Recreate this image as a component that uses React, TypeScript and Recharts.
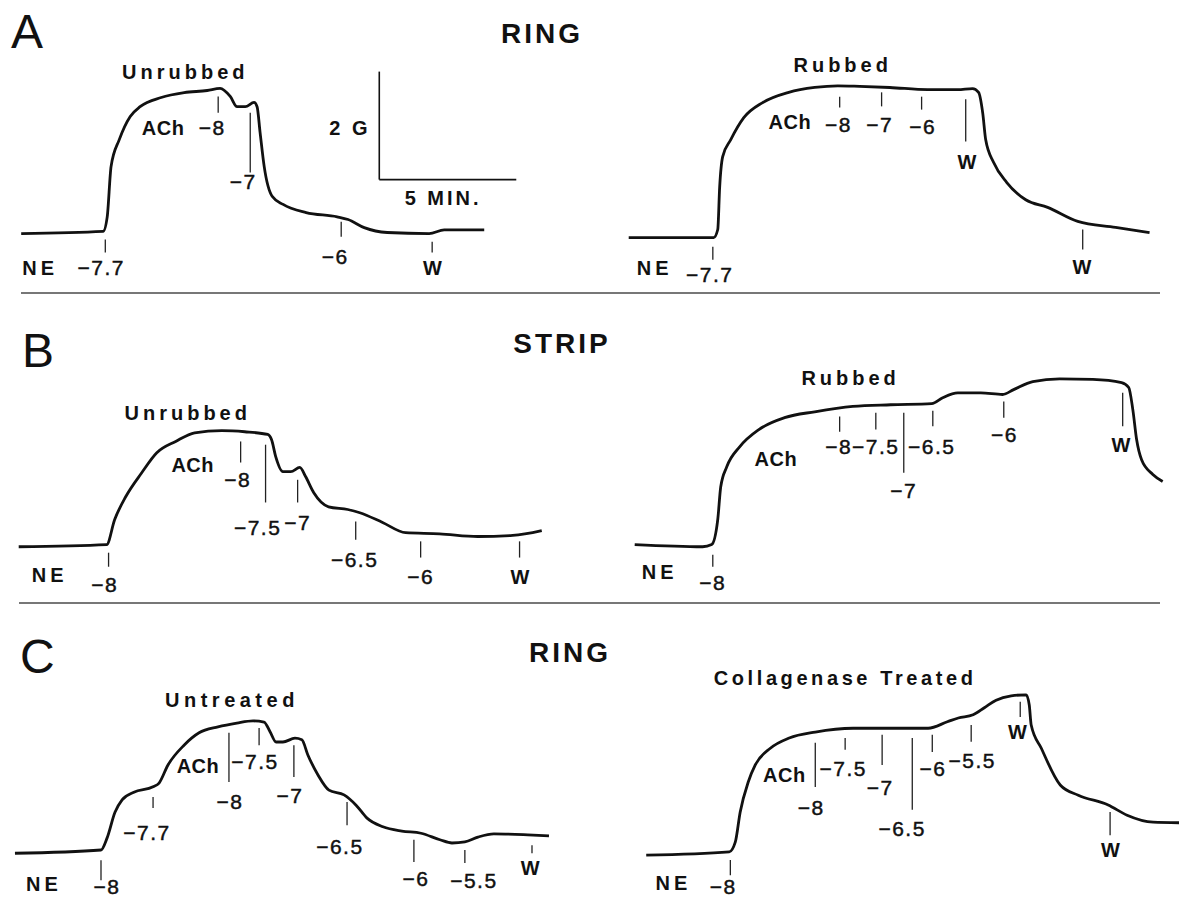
import { LineChart, Line, XAxis, YAxis, ReferenceLine, ReferenceDot } from 'recharts';

// recorder scale: 5 min horizontal, 2 g vertical (from the calibration bar)
const PX_PER_MIN = 27.4;
const PX_PER_G = 54;
const FONT = "'Liberation Sans', Arial, Helvetica, sans-serif";

// tension traces: [time (min), tension above baseline (g)]
const ringUnrubbed = [
  [0, 0], [2.99, 0.04], [3.14, 0.31], [3.28, 1.24], [3.58, 1.74], [3.98, 2.17], [4.34, 2.35],
  [5.11, 2.52], [5.95, 2.61], [6.79, 2.65], [7.26, 2.69], [7.63, 2.54], [7.88, 2.35], [8.18, 2.35],
  [8.5, 2.43], [8.61, 2.35], [8.72, 1.87], [8.87, 1.24], [9.16, 0.69], [9.56, 0.54], [10.4, 0.39],
  [11.53, 0.31], [11.93, 0.26], [12.52, 0.11], [13.36, 0.02], [14.89, 0], [15.44, 0.07], [16.9, 0.07],
];
const ringRubbed = [
  [0, 0], [3.1, 0], [3.25, 0.15], [3.32, 0.94], [3.43, 1.5], [3.72, 1.81], [4.2, 2.22], [4.89, 2.5],
  [5.84, 2.69], [6.79, 2.78], [7.63, 2.81], [8.43, 2.8], [9.53, 2.78], [10.91, 2.74], [12.01, 2.74],
  [12.55, 2.76], [12.77, 2.69], [12.92, 2.31], [13.03, 1.81], [13.32, 1.39], [13.8, 1.02], [14.49, 0.7],
  [15.29, 0.56], [16.39, 0.3], [17.77, 0.19], [19.01, 0.09],
];
const stripUnrubbed = [
  [0, -0.04], [3.21, 0], [3.5, 0.46], [3.91, 0.89], [4.49, 1.33], [5.04, 1.7], [5.73, 1.91], [6.42, 2.07],
  [7.41, 2.11], [8.25, 2.09], [9.09, 2.04], [9.23, 1.94], [9.38, 1.63], [9.64, 1.35], [9.93, 1.35],
  [10.26, 1.43], [10.47, 1.26], [10.77, 0.96], [11.31, 0.7], [12.01, 0.65], [12.45, 0.59], [13.28, 0.41],
  [14.12, 0.22], [15.36, 0.2], [16.75, 0.15], [18.03, 0.17], [19.09, 0.26],
];
const stripRubbed = [
  [0, 0], [2.48, -0.04], [2.81, 0], [3.03, 0.46], [3.14, 1.07], [3.36, 1.44], [3.83, 1.81], [4.53, 2.13],
  [5.47, 2.35], [6.57, 2.46], [7.96, 2.56], [9.34, 2.59], [10.84, 2.61], [11.24, 2.72], [11.79, 2.81],
  [12.63, 2.81], [13.43, 2.78], [13.83, 2.87], [14.53, 3.02], [15.51, 3.07], [16.72, 3.06], [17.77, 3.0],
  [18.03, 2.91], [18.18, 2.5], [18.32, 1.94], [18.5, 1.57], [18.91, 1.3], [19.27, 1.17],
];
const ringUntreated = [
  [0, -0.06], [3.14, 0], [3.36, 0.22], [3.65, 0.7], [3.91, 0.93], [4.34, 1.07], [5.04, 1.17], [5.26, 1.24],
  [5.58, 1.57], [6.17, 1.94], [6.72, 2.17], [7.41, 2.28], [8.1, 2.35], [8.69, 2.39], [9.09, 2.37],
  [9.31, 2.19], [9.53, 2.0], [9.78, 2.0], [10.22, 2.07], [10.47, 2.04], [10.69, 1.76], [11.06, 1.39],
  [11.46, 1.11], [12.01, 1.02], [12.45, 0.83], [12.85, 0.59], [13.43, 0.43], [14.12, 0.35], [14.82, 0.31],
  [15.51, 0.19], [15.95, 0.13], [16.42, 0.15], [16.9, 0.24], [17.48, 0.3], [18.72, 0.28], [19.49, 0.26],
];
const ringCollagenase = [
  [0, -0.04], [3.03, 0.02], [3.25, 0.2], [3.43, 0.76], [3.72, 1.31], [3.98, 1.63], [4.53, 1.94],
  [5.22, 2.13], [6.17, 2.24], [7.55, 2.31], [8.94, 2.31], [10.29, 2.31], [10.99, 2.43], [11.39, 2.5],
  [11.93, 2.56], [12.34, 2.69], [12.77, 2.83], [13.32, 2.91], [13.87, 2.93], [13.98, 2.74], [14.05, 2.37],
  [14.42, 1.94], [15.11, 1.26], [15.77, 1.07], [16.86, 0.89], [17.55, 0.7], [18.5, 0.57], [19.45, 0.56],
];

// drug additions: time, log dose (or W = wash), pen mark extent and label anchor (g / min)
type Mark = { t: number; dose: string; top: number; bottom: number; lt: number; lg: number };
type Word = { text: string; t: number; g: number; spacing?: number };

const ringUnrubbedMarks: Mark[] = [
  { t: 3.07, dose: '−7.7', top: -0.11, bottom: -0.35, lt: 2.92, lg: -0.63 },
  { t: 7.19, dose: '−8', top: 2.54, bottom: 2.24, lt: 6.97, lg: 1.96 },
  { t: 8.36, dose: '−7', top: 2.24, bottom: 1.13, lt: 8.1, lg: 0.96 },
  { t: 11.68, dose: '−6', top: 0.22, bottom: -0.06, lt: 11.46, lg: -0.43 },
  { t: 15.0, dose: 'W', top: -0.15, bottom: -0.35, lt: 15.04, lg: -0.63 },
];
const ringRubbedMarks: Mark[] = [
  { t: 3.07, dose: '−7.7', top: -0.17, bottom: -0.41, lt: 2.96, lg: -0.69 },
  { t: 7.7, dose: '−8', top: 2.61, bottom: 2.41, lt: 7.66, lg: 2.09 },
  { t: 9.23, dose: '−7', top: 2.69, bottom: 2.43, lt: 9.16, lg: 2.09 },
  { t: 10.69, dose: '−6', top: 2.61, bottom: 2.37, lt: 10.73, lg: 2.06 },
  { t: 12.3, dose: 'W', top: 2.56, bottom: 1.78, lt: 12.37, lg: 1.41 },
  { t: 16.57, dose: 'W', top: 0.15, bottom: -0.22, lt: 16.57, lg: -0.54 },
];
const stripUnrubbedMarks: Mark[] = [
  { t: 3.28, dose: '−8', top: -0.15, bottom: -0.41, lt: 3.14, lg: -0.74 },
  { t: 8.1, dose: '−8', top: 1.91, bottom: 1.52, lt: 7.99, lg: 1.2 },
  { t: 9.01, dose: '−7.5', top: 1.85, bottom: 0.78, lt: 8.72, lg: 0.31 },
  { t: 10.18, dose: '−7', top: 1.2, bottom: 0.78, lt: 10.18, lg: 0.41 },
  { t: 12.3, dose: '−6.5', top: 0.43, bottom: 0.09, lt: 12.26, lg: -0.28 },
  { t: 14.67, dose: '−6', top: 0.06, bottom: -0.24, lt: 14.67, lg: -0.59 },
  { t: 18.28, dose: 'W', top: 0.06, bottom: -0.24, lt: 18.32, lg: -0.59 },
];
const stripRubbedMarks: Mark[] = [
  { t: 2.85, dose: '−8', top: -0.19, bottom: -0.41, lt: 2.85, lg: -0.7 },
  { t: 7.48, dose: '−8', top: 2.37, bottom: 2.09, lt: 7.45, lg: 1.81 },
  { t: 8.8, dose: '−7.5', top: 2.44, bottom: 2.13, lt: 8.8, lg: 1.81 },
  { t: 9.82, dose: '−7', top: 2.44, bottom: 1.33, lt: 9.82, lg: 1.0 },
  { t: 10.88, dose: '−6.5', top: 2.48, bottom: 2.19, lt: 10.84, lg: 1.81 },
  { t: 13.47, dose: '−6', top: 2.65, bottom: 2.35, lt: 13.5, lg: 2.04 },
  { t: 17.81, dose: 'W', top: 2.81, bottom: 2.19, lt: 17.77, lg: 1.85 },
];
const ringUntreatedMarks: Mark[] = [
  { t: 3.14, dose: '−8', top: -0.19, bottom: -0.56, lt: 3.36, lg: -0.68 },
  { t: 5.04, dose: '−7.7', top: 0.98, bottom: 0.78, lt: 4.82, lg: 0.33 },
  { t: 7.81, dose: '−8', top: 2.17, bottom: 1.26, lt: 7.85, lg: 0.89 },
  { t: 8.91, dose: '−7.5', top: 2.26, bottom: 1.94, lt: 8.76, lg: 1.63 },
  { t: 10.18, dose: '−7', top: 1.94, bottom: 1.35, lt: 10.04, lg: 1.0 },
  { t: 12.12, dose: '−6.5', top: 0.89, bottom: 0.46, lt: 11.86, lg: 0.07 },
  { t: 14.56, dose: '−6', top: 0.19, bottom: -0.22, lt: 14.64, lg: -0.52 },
  { t: 16.42, dose: '−5.5', top: 0, bottom: -0.24, lt: 16.75, lg: -0.56 },
  { t: 18.87, dose: 'W', top: 0.09, bottom: -0.06, lt: 18.83, lg: -0.33 },
];
const ringCollagenaseMarks: Mark[] = [
  { t: 3.07, dose: '−8', top: -0.13, bottom: -0.41, lt: 2.81, lg: -0.62 },
  { t: 6.17, dose: '−8', top: 2.04, bottom: 1.22, lt: 6.02, lg: 0.85 },
  { t: 7.26, dose: '−7.5', top: 2.13, bottom: 1.91, lt: 7.19, lg: 1.57 },
  { t: 8.61, dose: '−7', top: 2.19, bottom: 1.63, lt: 8.54, lg: 1.22 },
  { t: 9.71, dose: '−6.5', top: 2.13, bottom: 0.8, lt: 9.34, lg: 0.46 },
  { t: 10.44, dose: '−6', top: 2.19, bottom: 1.87, lt: 10.47, lg: 1.56 },
  { t: 11.86, dose: '−5.5', top: 2.37, bottom: 2.06, lt: 11.9, lg: 1.72 },
  { t: 13.65, dose: 'W', top: 2.8, bottom: 2.52, lt: 13.58, lg: 2.24 },
  { t: 16.93, dose: 'W', top: 0.76, bottom: 0.33, lt: 16.97, lg: 0.06 },
];

const ringUnrubbedWords: Word[] = [
  { text: 'NE', t: 0.69, g: -0.63 }, { text: 'ACh', t: 5.18, g: 1.96, spacing: 0.5 },
  { text: 'Unrubbed', t: 5.99, g: 3.0 },
];
const ringRubbedWords: Word[] = [
  { text: 'NE', t: 0.95, g: -0.56 }, { text: 'ACh', t: 5.88, g: 2.15, spacing: 0.5 },
  { text: 'Rubbed', t: 7.81, g: 3.2 },
];
const stripUnrubbedWords: Word[] = [
  { text: 'NE', t: 1.13, g: -0.56 }, { text: 'ACh', t: 6.35, g: 1.48, spacing: 0.5 },
  { text: 'Unrubbed', t: 6.17, g: 2.44 },
];
const stripRubbedWords: Word[] = [
  { text: 'NE', t: 0.91, g: -0.5 }, { text: 'ACh', t: 5.15, g: 1.59, spacing: 0.5 },
  { text: 'Rubbed', t: 7.88, g: 3.09 },
];
const ringUntreatedWords: Word[] = [
  { text: 'NE', t: 1.06, g: -0.62 }, { text: 'ACh', t: 6.68, g: 1.56, spacing: 0.5 },
  { text: 'Untreated', t: 7.92, g: 2.78, spacing: 4.5 },
];
const ringCollagenaseWords: Word[] = [
  { text: 'NE', t: 0.99, g: -0.56 }, { text: 'ACh', t: 5.04, g: 1.44, spacing: 0.5 },
  { text: 'Collagenase Treated', t: 7.26, g: 3.24, spacing: 3.6 },
];

// calibration bar (drawn in the ring/unrubbed recording)
const SCALE_MIN = 5;
const SCALE_G = 2;
const scaleOrigin = { t: 13.07, g: 1.0 };

type TraceProps = {
  left: number;
  baseline: number;
  tRange: [number, number];
  gRange: [number, number];
  points: number[][];
  marks: Mark[];
  words: Word[];
  withScale?: boolean;
};

function Trace({ left, baseline, tRange, gRange, points, marks, words, withScale }: TraceProps) {
  const [tMin, tMax] = tRange;
  const [gMin, gMax] = gRange;
  const data = points.map(([t, g]) => ({ t, g }));
  const width = (tMax - tMin) * PX_PER_MIN;
  const height = (gMax - gMin) * PX_PER_G;
  return (
    <div style={{ position: 'absolute', left: left + tMin * PX_PER_MIN, top: baseline - gMax * PX_PER_G }}>
      <LineChart width={width} height={height} data={data} margin={{ top: 0, right: 0, bottom: 0, left: 0 }}>
        <XAxis type="number" dataKey="t" domain={[tMin, tMax]} allowDataOverflow hide />
        <YAxis type="number" domain={[gMin, gMax]} allowDataOverflow hide />
        <Line
          type="monotone"
          dataKey="g"
          stroke="#111"
          strokeWidth={2.8}
          dot={false}
          activeDot={false}
          isAnimationActive={false}
        />
        {marks.map((m, i) => (
          <ReferenceLine
            key={'tick' + i}
            segment={[{ x: m.t, y: m.top }, { x: m.t, y: m.bottom }]}
            stroke="#222"
            strokeWidth={1.3}
            ifOverflow="visible"
          />
        ))}
        {marks.map((m, i) => (
          <ReferenceDot
            key={'dose' + i}
            x={m.lt}
            y={m.lg}
            r={0}
            fill="none"
            stroke="none"
            ifOverflow="visible"
            label={{
              value: m.dose,
              position: 'center',
              fill: '#111',
              stroke: '#111',
              strokeWidth: m.dose === 'W' ? 0 : 0.45,
              fontSize: m.dose === 'W' ? 20 : 21,
              fontWeight: m.dose === 'W' ? 700 : 400,
              fontFamily: FONT,
              letterSpacing: 1.5,
            }}
          />
        ))}
        {words.map((w, i) => (
          <ReferenceDot
            key={'word' + i}
            x={w.t}
            y={w.g}
            r={0}
            fill="none"
            stroke="none"
            ifOverflow="visible"
            label={{
              value: w.text,
              position: 'center',
              fill: '#111',
              fontSize: 20,
              fontWeight: 700,
              fontFamily: FONT,
              letterSpacing: w.spacing ?? 4,
            }}
          />
        ))}
        {withScale && (
          <ReferenceLine
            segment={[
              { x: scaleOrigin.t, y: scaleOrigin.g + SCALE_G },
              { x: scaleOrigin.t, y: scaleOrigin.g },
            ]}
            stroke="#111"
            strokeWidth={1.6}
            ifOverflow="visible"
          />
        )}
        {withScale && (
          <ReferenceLine
            segment={[
              { x: scaleOrigin.t, y: scaleOrigin.g },
              { x: scaleOrigin.t + SCALE_MIN, y: scaleOrigin.g },
            ]}
            stroke="#111"
            strokeWidth={1.6}
            ifOverflow="visible"
          />
        )}
        {withScale && (
          <ReferenceDot
            x={scaleOrigin.t - 1.07}
            y={scaleOrigin.g + 0.96}
            r={0}
            fill="none"
            stroke="none"
            ifOverflow="visible"
            label={{ value: `${SCALE_G} G`, position: 'center', fill: '#111', fontSize: 20, fontWeight: 700, fontFamily: FONT, letterSpacing: 3 }}
          />
        )}
        {withScale && (
          <ReferenceDot
            x={scaleOrigin.t + 2.33}
            y={scaleOrigin.g - 0.33}
            r={0}
            fill="none"
            stroke="none"
            ifOverflow="visible"
            label={{ value: `${SCALE_MIN} MIN.`, position: 'center', fill: '#111', fontSize: 20, fontWeight: 700, fontFamily: FONT, letterSpacing: 3 }}
          />
        )}
      </LineChart>
    </div>
  );
}

function Frame() {
  const letter = { fontFamily: FONT, fontSize: 48, fill: '#111' };
  const title = { fontFamily: FONT, fontSize: 28, fontWeight: 700, fill: '#111', letterSpacing: 3, textAnchor: 'middle' as const };
  return (
    <svg width={1179} height={902} style={{ position: 'absolute', left: 0, top: 0 }}>
      <text x={11} y={48} {...letter}>A</text>
      <text x={22} y={367} {...letter}>B</text>
      <text x={20} y={673} {...letter}>C</text>
      <text x={542} y={43} {...title}>RING</text>
      <text x={562} y={353} {...title}>STRIP</text>
      <text x={570} y={662} {...title}>RING</text>
      <line x1={21} y1={293} x2={1160} y2={293} stroke="#777" strokeWidth={2} />
      <line x1={19} y1={603} x2={1160} y2={603} stroke="#777" strokeWidth={2} />
    </svg>
  );
}

export default function App() {
  return (
    <div style={{ position: 'absolute', left: 0, top: 0, width: 1179, height: 902, background: '#fff', overflow: 'hidden' }}>
      <Frame />
      <Trace left={21} baseline={234} tRange={[-0.7, 19]} gRange={[-0.9, 3.4]} points={ringUnrubbed} marks={ringUnrubbedMarks} words={ringUnrubbedWords} withScale />
      <Trace left={629} baseline={238} tRange={[-0.5, 19.5]} gRange={[-0.9, 3.4]} points={ringRubbed} marks={ringRubbedMarks} words={ringRubbedWords} />
      <Trace left={19} baseline={545} tRange={[-0.5, 20]} gRange={[-1.0, 2.9]} points={stripUnrubbed} marks={stripUnrubbedMarks} words={stripUnrubbedWords} />
      <Trace left={635} baseline={545} tRange={[-0.5, 19.6]} gRange={[-1.0, 3.4]} points={stripRubbed} marks={stripRubbedMarks} words={stripRubbedWords} />
      <Trace left={15} baseline={850} tRange={[-0.4, 20.2]} gRange={[-0.95, 3.0]} points={ringUntreated} marks={ringUntreatedMarks} words={ringUntreatedWords} />
      <Trace left={646} baseline={853} tRange={[-0.3, 19.5]} gRange={[-0.9, 3.5]} points={ringCollagenase} marks={ringCollagenaseMarks} words={ringCollagenaseWords} />
    </div>
  );
}
